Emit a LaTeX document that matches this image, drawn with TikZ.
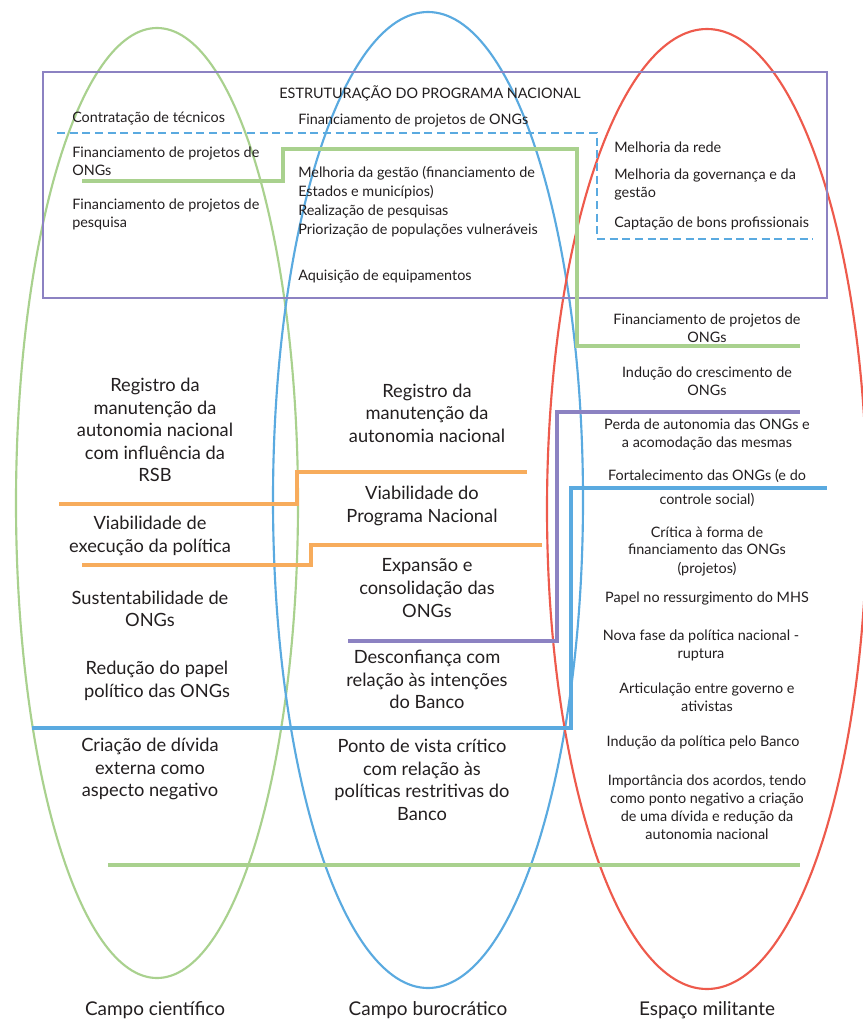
\documentclass[tikz,border=0pt]{standalone}
\usepackage{fontspec}
\setmainfont{Lato}
\definecolor{cgreen}{HTML}{A9D18E}
\definecolor{cblue}{HTML}{5AAAE0}
\definecolor{cred}{HTML}{EE5A4C}
\definecolor{cpurple}{HTML}{8C82C2}
\definecolor{corange}{HTML}{F7AC5C}
\definecolor{ctext}{HTML}{231F20}
\begin{document}
\begin{tikzpicture}[x=0.75pt,y=-0.75pt,
  ring/.style={line width=1.6pt},
  sep/.style={line width=3pt},
  small/.style={font=\fontsize{10.8}{13.5}\selectfont, text=ctext, inner sep=0pt},
  smallL/.style={small, align=left, anchor=west},
  smallC/.style={small, align=center},
  big/.style={font=\fontsize{13.7}{16.9}\selectfont, text=ctext, inner sep=0pt, align=center},
  label/.style={font=\fontsize{14.2}{16}\selectfont, text=ctext, inner sep=0pt}]
\useasboundingbox (0,0) rectangle (863,1021);
\fill[white] (0,0) rectangle (863,1021);
% ellipses
\draw[ring, cgreen] (157,503) ellipse [x radius=141, y radius=475];
\draw[ring, cblue] (428,500) ellipse [x radius=155, y radius=488];
\draw[ring, cred] (707,509) ellipse [x radius=160, y radius=480];
% programme box
\draw[line width=1.5pt, cpurple] (43,72) rectangle (827,298);
\draw[line width=1.2pt, cblue, dash pattern=on 6pt off 3.5pt] (57,133) -- (597,133) -- (597,239) -- (813,239);
% separators
\draw[sep, cgreen] (82,181) -- (283,181) -- (283,149) -- (577,149) -- (577,346) -- (800,346);
\draw[sep, corange] (59,504) -- (297,504) -- (297,472) -- (527,472);
\draw[sep, corange] (82,565) -- (311,565) -- (311,545) -- (542,545);
\draw[sep, cpurple] (348,641) -- (557,641) -- (557,412) -- (800,412);
\draw[sep, cblue] (32,728) -- (571,728) -- (571,488) -- (827,488);
\draw[sep, cgreen] (108,865) -- (800,865);
% box texts
\node[small] (title) at (430,93) {ESTRUTURAÇÃO DO PROGRAMA NACIONAL};
\node[smallL] (t1) at (72,118) {Contratação de técnicos};
\node[smallL] (t2) at (72,161) {Financiamento de projetos de\\ONGs};
\node[smallL] (t3) at (72,214.5) {Financiamento de projetos de\\pesquisa};
\node[smallL] (m1) at (298,121) {Financiamento de projetos de ONGs};
\node[smallL, font=\fontsize{10.8}{14.2}\selectfont] (m2) at (298,202) {Melhoria da gestão (financiamento de\\Estados e municípios)\\Realização de pesquisas\\Priorização de populações vulneráveis};
\node[smallL] (m3) at (298,276) {Aquisição de equipamentos};
\node[smallL] (r1) at (614,147) {Melhoria da rede};
\node[smallL] (r2) at (614,184.5) {Melhoria da governança e da\\gestão};
\node[smallL] (r3) at (614,223) {Captação de bons profissionais};
% right column
\node[smallC] (e1) at (707,328) {Financiamento de projetos de\\ONGs};
\node[smallC] (e2) at (707,381.5) {Indução do crescimento de\\ONGs};
\node[smallC] (e3) at (707,434.5) {Perda de autonomia das ONGs e\\a acomodação das mesmas};
\node[smallC] (e4a) at (707,476) {Fortalecimento das ONGs (e do};
\node[smallC] (e4b) at (707,500) {controle social)};
\node[smallC] (e5) at (707,551) {Crítica à forma de\\financiamento das ONGs\\(projetos)};
\node[smallC] (e6) at (707,599) {Papel no ressurgimento do MHS};
\node[smallC] (e7) at (701,645.5) {Nova fase da política nacional -\\ruptura};
\node[smallC] (e8) at (707,697.5) {Articulação entre governo e\\ativistas};
\node[smallC] (e9) at (703,742) {Indução da política pelo Banco};
\node[smallC] (e10) at (707,807) {Importância dos acordos, tendo\\como ponto negativo a criação\\de uma dívida e redução da\\autonomia nacional};
% left column
\node[big] (c1) at (155,430) {Registro da\\manutenção da\\autonomia nacional\\com influência da\\RSB};
\node[big] (c2) at (150,536) {Viabilidade de\\execução da política};
\node[big] (c3) at (150,609) {Sustentabilidade de\\ONGs};
\node[big] (c4) at (157,681) {Redução do papel\\político das ONGs};
\node[big] (c5) at (150,769) {Criação de dívida\\externa como\\aspecto negativo};
% middle column
\node[big] (b1) at (427,413) {Registro da\\manutenção da\\autonomia nacional};
\node[big] (b2) at (422,506) {Viabilidade do\\Programa Nacional};
\node[big] (b3) at (427,588) {Expansão e\\consolidação das\\ONGs};
\node[big] (b4) at (427,679.5) {Desconfiança com\\relação às intenções\\do Banco};
\node[big] (b5) at (422,780) {Ponto de vista crítico\\com relação às\\políticas restritivas do\\Banco};
% field labels
\node[label] (f1) at (155,1010) {Campo científico};
\node[label] (f2) at (428,1010) {Campo burocrático};
\node[label] (f3) at (707,1010) {Espaço militante};
\end{tikzpicture}
\end{document}
